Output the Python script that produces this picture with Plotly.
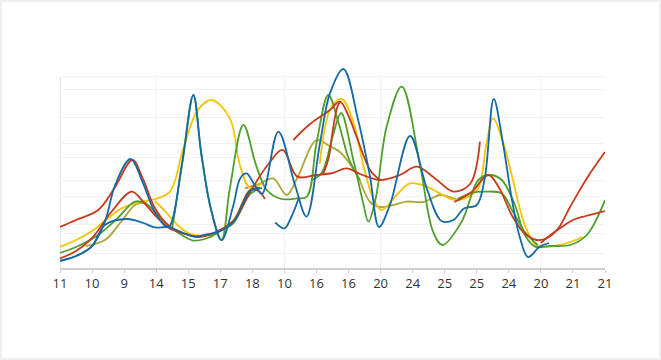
import plotly.graph_objects as go

# Category tick labels (x axis)
tick_labels = ["11", "10", "9", "14", "15", "17", "18", "10", "16",
               "16", "20", "24", "25", "25", "24", "20", "21", "21"]

# ---- Blue series ----
blue_main_x = [0, 0.5, 1.0, 1.4, 1.72, 2.2, 2.6, 2.96, 3.38, 3.8, 4.16, 4.4, 4.7, 5.04, 5.41, 5.62,
               5.82, 6.05, 6.3, 6.81, 7.33, 7.69, 8.11, 8.42, 8.84, 9.3, 9.67, 9.95, 10.29, 10.92,
               11.44, 11.9, 12.27, 12.6, 13.0, 13.25, 13.53, 13.82, 14.09, 14.35, 14.6, 14.97, 15.25]
blue_main_y = [3.5, 6, 11, 23, 41.5, 54.5, 42, 28, 20.4, 51.5, 86.5, 58, 30, 14, 31.5, 44.8,
               47.3, 42, 37, 68.2, 41.5, 25.7, 62.5, 87.3, 99.5, 74, 45.7, 20.5, 31.5, 66,
               39.8, 23.5, 24, 29.8, 31.5, 45, 84.5, 62, 34.8, 15, 5.5, 10.7, 12.5]
blue_low_x = [0, 0.5, 0.99, 1.4, 2.08, 2.6, 2.96, 3.38, 3.85, 4.2, 4.58, 5.0, 5.41, 5.93, 6.25]
blue_low_y = [3.5, 6, 10.7, 21.5, 24.5, 22.5, 20.3, 20.4, 17.5, 15.8, 16.8, 18.5, 23, 38.5, 40]
blue_short_x = [6.71, 7.0, 7.2, 7.45]
blue_short_y = [22.8, 19.8, 25, 35]

# ---- Red series ----
red_high_x = [0, 0.5, 1.19, 1.7, 2.26, 2.6, 2.96, 3.4, 3.85, 4.3, 4.8, 5.41, 5.93, 6.2, 6.39]
red_high_y = [20.5, 24, 29, 40, 54, 44, 30, 21, 17.3, 15.5, 17.5, 23.5, 39, 38.5, 34.5]
red_long_x = [0, 0.5, 0.99, 1.6, 2.24, 2.6, 2.96, 3.4, 3.85, 4.3, 4.8, 5.41, 5.93, 6.5, 6.95,
              7.4, 8.0, 8.5, 8.94, 9.36, 9.98, 10.6, 11.13, 11.7, 12.27, 12.79, 13.1]
red_long_y = [4.8, 8.5, 14.8, 28, 38.2, 33, 26.5, 20, 17.3, 15.5, 17.5, 23.5, 38, 52, 59,
              45.7, 46.5, 47.5, 49.8, 47, 44, 46.5, 50.7, 44.8, 38.2, 42, 63.2]
red_peak_x = [7.28, 7.8, 8.42, 8.73, 9.0, 9.25, 9.67, 9.98]
red_peak_y = [64, 72, 79, 83.2, 76, 65.7, 49, 44]
red_steep_x = [8.2, 8.38, 8.52, 8.64, 8.73]
red_steep_y = [46.8, 55, 70, 80, 83.2]
red_right_x = [12.3, 12.84, 13.36, 13.7, 14.09, 14.45, 14.87, 15.2, 15.55, 15.91, 16.43, 17]
red_right_y = [33, 38, 46.5, 40, 26.5, 18, 14, 15, 20, 30.5, 44.8, 58]
red_tail_x = [15.0, 15.3, 15.7, 16.0, 16.4, 17]
red_tail_y = [12.5, 16.5, 21, 24, 26, 28.5]

# ---- Green series ----
green_low_x = [0, 0.5, 1.19, 1.8, 2.34, 2.7, 2.96, 3.4, 3.85, 4.16, 4.6, 5.0, 5.41, 5.93, 6.3]
green_low_y = [7.5, 10.5, 16.5, 25, 33.2, 32, 28, 21, 16, 13.7, 15, 18.5, 22.5, 37, 40]
green_a_x = [3.5, 3.8, 4.16, 4.4, 4.7, 5.04, 5.3, 5.72, 6.13, 6.45, 6.9, 7.38, 7.7, 8.0,
             8.37, 8.7, 9.0, 9.35]
green_a_y = [20, 51, 86.5, 58, 30, 14, 40, 71.5, 50.7, 39, 34.5, 34.8, 35.7, 62.3,
             86.5, 72, 55, 44]
green_b_x = [7.85, 8.16, 8.53, 8.77, 9.15, 9.46, 9.62, 9.85, 10.19, 10.66, 11.23, 11.64,
             11.93, 12.53, 13.05, 13.41, 13.78, 14.19, 14.5, 14.82, 15.3, 15.91, 16.43, 17]
green_b_y = [44, 47.5, 67.3, 77.5, 54, 32.3, 23.2, 35, 70.7, 90.7, 51.5, 18,
             11.5, 23.2, 44, 46.5, 44, 31.5, 16.5, 10.7, 11, 11.5, 16.5, 34]
green_flat_x = [12.4, 12.84, 13.26, 13.78, 14.1, 14.5, 14.9]
green_flat_y = [34.5, 37.6, 38.2, 37.3, 29, 18, 11.5]

# ---- Yellow series ----
yellow_a_x = [0, 0.5, 1.0, 1.92, 2.5, 2.96, 3.43, 3.85, 4.3, 4.73, 5.3, 5.61, 5.93, 6.3]
yellow_a_y = [10.5, 14, 18.5, 29.8, 33, 34.5, 38.2, 59.8, 79, 84, 74.8, 51.5, 40, 42.5]
yellow_low_x = [2.96, 3.3, 3.7, 4.0, 4.37, 4.8, 5.41, 5.93, 6.3]
yellow_low_y = [33.5, 28, 21, 17.5, 16.2, 17, 24, 39, 40]
yellow_b_x = [8.1, 8.45, 8.79, 9.15, 9.46, 9.77, 10.03, 10.5, 10.92, 11.44, 11.85, 12.32,
              12.74, 13.05, 13.3, 13.51, 13.8, 14.09, 14.5, 14.85, 15.22, 15.6, 16.0, 16.3]
yellow_b_y = [52, 80, 84.5, 73, 51.5, 34.8, 29, 36.5, 42.3, 40.7, 37.3, 34,
              35.7, 40, 62, 74.8, 64, 46.5, 21.5, 11.5, 10.7, 11.5, 13.5, 15.5]

# ---- Olive series ----
olive_a_x = [0.8, 1.4, 1.9, 2.34, 2.7]
olive_a_y = [11, 14, 23, 31.5, 33]
olive_b_x = [5.77, 6.2, 6.65, 7.07, 7.43, 8.0, 8.4, 8.73, 9.25, 9.67, 9.98, 10.4, 10.81,
             11.33, 11.85, 12.1, 12.41]
olive_b_y = [39.8, 42, 44.8, 36.5, 46, 64, 61, 58, 47, 33, 30.5, 31.5, 33.2,
             33, 36.5, 35.7, 34]

# Faint horizontal grid levels
grid_levels = [7.3, 17.3, 22, 36, 44, 55.3, 62.3, 75.3, 89.3, 96]
vgrid_positions = [3, 7, 10, 15]

BLUE = "#156aa6"
RED = "#c63b1c"
GREEN = "#4f9f2c"
YELLOW = "#f6c400"
OLIVE = "#aea63a"

series = [
    (olive_a_x, olive_a_y, OLIVE),
    (olive_b_x, olive_b_y, OLIVE),
    (yellow_low_x, yellow_low_y, YELLOW),
    (yellow_a_x, yellow_a_y, YELLOW),
    (yellow_b_x, yellow_b_y, YELLOW),
    (green_low_x, green_low_y, GREEN),
    (green_flat_x, green_flat_y, GREEN),
    (green_a_x, green_a_y, GREEN),
    (green_b_x, green_b_y, GREEN),
    (red_tail_x, red_tail_y, RED),
    (red_right_x, red_right_y, RED),
    (red_high_x, red_high_y, RED),
    (red_long_x, red_long_y, RED),
    (red_peak_x, red_peak_y, RED),
    (red_steep_x, red_steep_y, RED),
    (blue_low_x, blue_low_y, BLUE),
    (blue_short_x, blue_short_y, BLUE),
    (blue_main_x, blue_main_y, BLUE),
]

fig = go.Figure()
for xs, ys, col in series:
    fig.add_trace(go.Scatter(
        x=xs, y=ys, mode="lines",
        line=dict(color=col, width=1.8, shape="spline", smoothing=1.0),
        hoverinfo="skip", showlegend=False,
    ))

W, H = 661, 360
ML, MR, MT, MB = 60, 56, 66, 92
pw, ph = W - ML - MR, H - MT - MB

shapes = []
# outer soft frame
shapes.append(dict(type="rect", xref="paper", yref="paper",
                   x0=-ML / pw, x1=1 + MR / pw, y0=-MB / ph, y1=1 + MT / ph,
                   line=dict(color="#efefef", width=4), fillcolor="rgba(0,0,0,0)",
                   layer="below"))
for vx in vgrid_positions:
    shapes.append(dict(type="line", xref="x", yref="y", x0=vx, x1=vx, y0=0, y1=96,
                       line=dict(color="#f1f1f1", width=1), layer="below"))
# left axis line
shapes.append(dict(type="line", xref="x", yref="y", x0=0, x1=0, y0=0, y1=96,
                   line=dict(color="#dcdcdc", width=1.5), layer="below"))

fig.update_layout(
    width=W, height=H,
    margin=dict(l=ML, r=MR, t=MT, b=MB),
    paper_bgcolor="white", plot_bgcolor="white",
    shapes=shapes,
    xaxis=dict(range=[0, 17], tickmode="array", tickvals=list(range(len(tick_labels))),
               ticktext=tick_labels, showgrid=False, zeroline=False,
               showline=True, linecolor="#cfcfcf", linewidth=1.5,
               ticks="outside", ticklen=3, tickcolor="#cfcfcf",
               tickfont=dict(family="Open Sans, Noto Sans, sans-serif", size=13, color="#333333")),
    yaxis=dict(range=[0, 101], tickmode="array", tickvals=grid_levels,
               showticklabels=False, ticks="", showgrid=True, gridcolor="#f2f2f2",
               gridwidth=1, zeroline=False, showline=False),
)

fig.write_html("out.html")
